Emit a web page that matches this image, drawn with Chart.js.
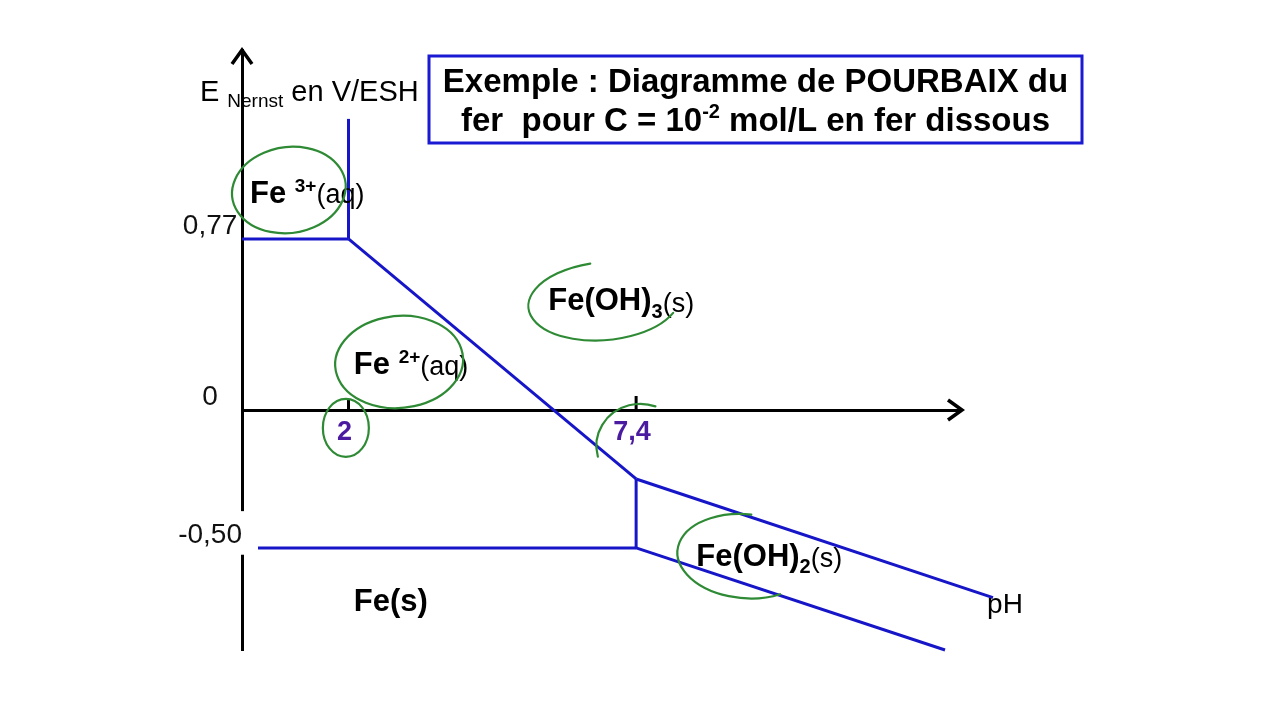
<!DOCTYPE html>
<html>
<head>
<meta charset="utf-8">
<script src="https://cdn.jsdelivr.net/npm/chart.js@4.4.1/dist/chart.umd.min.js"></script>
<style>
  html, body { margin: 0; padding: 0; background: #ffffff; }
  #wrap { width: 1280px; height: 720px; }
</style>
</head>
<body>
<div id="wrap"><canvas id="c" width="1280" height="720"></canvas></div>
<script>
// ---------------- DATA (pH, E in V/ESH) ----------------
const fe3Fe2_pH = [0, 2];            const fe3Fe2_E = [0.77, 0.77];
const feoh3Fe3_pH = [2, 2];          const feoh3Fe3_E = [0.77, 1.31];
const feoh3Fe2_pH = [2, 7.4];        const feoh3Fe2_E = [0.77, -0.25];
const fe2Feoh2_pH = [7.4, 7.4];      const fe2Feoh2_E = [-0.25, -0.50];
const fe2Fe_pH = [0, 7.4];           const fe2Fe_E = [-0.50, -0.50];
const feoh3Feoh2_pH = [7.4, 14.1];   const feoh3Feoh2_E = [-0.25, -0.68];
const feoh2Fe_pH = [7.4, 13.2];      const feoh2Fe_E = [-0.50, -0.87];

const xTicks = [2, 7.4];
const xTickLabels = ['2', '7,4'];
const yTicks = [-0.50, 0, 0.77];
const yTickLabels = ['-0,50', '0', '0,77'];

// species labels (anchor in pH / E)
const speciesNames = ['Fe3+(aq)', 'Fe(OH)3(s)', 'Fe2+(aq)', 'Fe(OH)2(s)', 'Fe(s)'];
const speciesPH = [0.15, 5.75, 2.10, 8.53, 2.10];
const speciesE = [0.93, 0.45, 0.16, -0.565, -0.73];

// hand-drawn circles (centre in pH / E)
const circlePH = [0.88, 6.80, 2.95, 1.95, 7.48, 9.45];
const circleE = [0.99, 0.49, 0.216, -0.065, -0.13, -0.53];

const titleLines = ['Exemple : Diagramme de POURBAIX du', 'fer  pour C = 10', '-2', ' mol/L en fer dissous'];

// ---------------- STYLE ----------------
const FAM = '"Liberation Sans", Arial, Helvetica, sans-serif';
const BLUE = '#1616c8';
const PURPLE = '#4a1aa0';
const GREEN = '#2e8a34';

// piecewise linear scale (schematic axis: different unit above / below 0)
class PiecewiseScale extends Chart.LinearScale {
  getPixelForValue(v) {
    if (v === null || v === undefined || isNaN(v)) return NaN;
    const f = this.options.zeroFraction;
    const zeroPx = this.bottom - (this.bottom - this.top) * f;
    if (v >= 0) return zeroPx - (v / this.max) * (zeroPx - this.top);
    return zeroPx + (v / this.min) * (this.bottom - zeroPx);
  }
  getValueForPixel(p) {
    const f = this.options.zeroFraction;
    const zeroPx = this.bottom - (this.bottom - this.top) * f;
    if (p <= zeroPx) return (zeroPx - p) / (zeroPx - this.top) * this.max;
    return (p - zeroPx) / (this.bottom - zeroPx) * this.min;
  }
  // let the label backdrop reach past the axis line (no clipping to the scale box)
  _computeLabelArea() { return null; }
}
PiecewiseScale.id = 'piecewise';
PiecewiseScale.defaults = { zeroFraction: 0.4, ticks: { callback: v => String(v) } };
Chart.register(PiecewiseScale);

const mk = (pH, E) => pH.map((v, i) => ({ x: v, y: E[i] }));
const lineStyle = { showLine: true, borderColor: BLUE, backgroundColor: BLUE, borderWidth: 3,
  pointRadius: 0, pointHoverRadius: 0, clip: false, fill: false, tension: 0, borderCapStyle: 'butt' };

function drawRich(ctx, parts, x, y, align) {
  let w = 0;
  parts.forEach(p => { ctx.font = p.font; p.w = ctx.measureText(p.t).width; w += p.w; });
  let cx = align === 'center' ? x - w / 2 : x;
  ctx.textAlign = 'left';
  ctx.textBaseline = 'alphabetic';
  parts.forEach(p => {
    ctx.font = p.font; ctx.fillStyle = p.color || '#000';
    ctx.fillText(p.t, cx, y + (p.dy || 0));
    cx += p.w;
  });
}

const B = s => 'bold ' + s + 'px ' + FAM;
const N = s => s + 'px ' + FAM;

const speciesParts = [
  [{ t: 'Fe ', font: B(31) }, { t: '3+', font: B(19), dy: -11 }, { t: '(aq)', font: N(27) }],
  [{ t: 'Fe(OH)', font: B(31) }, { t: '3', font: B(20), dy: 8 }, { t: '(s)', font: N(27), dy: 2 }],
  [{ t: 'Fe ', font: B(31) }, { t: '2+', font: B(19), dy: -11 }, { t: '(aq)', font: N(27), dy: 1 }],
  [{ t: 'Fe(OH)', font: B(31) }, { t: '2', font: B(20), dy: 7 }, { t: '(s)', font: N(27), dy: 1 }],
  [{ t: 'Fe(s)', font: B(31) }]
];
// circle shapes: rx, ry (px), rotation, start/end angle (deg)
const circleShape = [
  [57, 43, -8, 205, 585],
  [76, 39, -5, 27, 262],
  [64, 46, -5, 215, 590],
  [23, 29, 0, 0, 360],
  [44, 42, 0, 165, 290],
  [68, 42, 5, 56, 272]
];

const overlay = {
  id: 'overlay',
  afterDraw(chart) {
    const { ctx, scales: { x, y }, chartArea } = chart;
    const X = v => x.getPixelForValue(v);
    const Y = v => y.getPixelForValue(v);
    ctx.save();
    // arrows
    ctx.strokeStyle = '#000'; ctx.lineWidth = 3.5; ctx.lineJoin = 'miter'; ctx.lineCap = 'butt';
    const ax = X(0), ay = chartArea.top;
    ctx.beginPath(); ctx.moveTo(ax - 10, ay + 14); ctx.lineTo(ax, ay); ctx.lineTo(ax + 10, ay + 14); ctx.stroke();
    const bx = chartArea.right + 1, by = Y(0);
    ctx.beginPath(); ctx.moveTo(bx - 14, by - 10); ctx.lineTo(bx, by); ctx.lineTo(bx - 14, by + 10); ctx.stroke();
    // tick marks on pH axis (upwards)
    ctx.lineWidth = 3;
    xTicks.forEach((v, i) => {
      ctx.beginPath(); ctx.moveTo(X(v), by); ctx.lineTo(X(v), by - (i === 0 ? 10 : 14)); ctx.stroke();
    });
    // axis titles
    drawRich(ctx, [{ t: 'E ', font: N(29) }, { t: 'Nernst', font: N(19), dy: 6 }, { t: ' en V/ESH', font: N(29) }],
      X(-0.79), Y(1.39), 'left');
    drawRich(ctx, [{ t: 'pH', font: N(28) }], X(13.99), Y(-0.736), 'left');
    // species labels
    speciesParts.forEach((parts, i) => drawRich(ctx, parts, X(speciesPH[i]), Y(speciesE[i]), 'left'));
    // green hand-drawn circles
    ctx.strokeStyle = GREEN; ctx.lineWidth = 2.2; ctx.lineCap = 'round';
    circleShape.forEach((s, i) => {
      const d = Math.PI / 180;
      ctx.beginPath();
      ctx.ellipse(X(circlePH[i]), Y(circleE[i]), s[0], s[1], s[2] * d, s[3] * d, s[4] * d);
      ctx.stroke();
    });
    // title box
    const tx = 429, ty = 56, tw = 653, th = 87;
    ctx.fillStyle = '#fff'; ctx.fillRect(tx, ty, tw, th);
    ctx.strokeStyle = '#1a1ad2'; ctx.lineWidth = 3; ctx.strokeRect(tx, ty, tw, th);
    const cxT = tx + tw / 2;
    drawRich(ctx, [{ t: titleLines[0], font: B(33) }], cxT, 92, 'center');
    drawRich(ctx, [{ t: titleLines[1], font: B(33) }, { t: titleLines[2], font: B(20), dy: -13 },
      { t: titleLines[3], font: B(33) }], cxT, 131, 'center');
    ctx.restore();
  }
};

new Chart(document.getElementById('c'), {
  type: 'scatter',
  data: {
    datasets: [
      Object.assign({ label: 'Fe3+/Fe2+', data: mk(fe3Fe2_pH, fe3Fe2_E) }, lineStyle),
      Object.assign({ label: 'Fe(OH)3/Fe3+', data: mk(feoh3Fe3_pH, feoh3Fe3_E) }, lineStyle),
      Object.assign({ label: 'Fe(OH)3/Fe2+', data: mk(feoh3Fe2_pH, feoh3Fe2_E) }, lineStyle),
      Object.assign({ label: 'Fe2+/Fe(OH)2', data: mk(fe2Feoh2_pH, fe2Feoh2_E) }, lineStyle),
      Object.assign({ label: 'Fe2+/Fe', data: mk(fe2Fe_pH, fe2Fe_E) }, lineStyle),
      Object.assign({ label: 'Fe(OH)3/Fe(OH)2', data: mk(feoh3Feoh2_pH, feoh3Feoh2_E) }, lineStyle),
      Object.assign({ label: 'Fe(OH)2/Fe', data: mk(feoh2Fe_pH, feoh2Fe_E) }, lineStyle)
    ]
  },
  options: {
    responsive: false,
    devicePixelRatio: 1,
    animation: false,
    events: [],
    layout: { padding: { top: 50, bottom: 70, left: 0, right: 319 } },
    plugins: { legend: { display: false }, tooltip: { enabled: false }, title: { display: false } },
    scales: {
      x: {
        type: 'linear', min: 0, max: 13.5, position: { y: 0 },
        grid: { display: false, drawTicks: false },
        border: { display: true, color: '#000', width: 3 },
        afterBuildTicks: s => { s.ticks = xTicks.map(v => ({ value: v })); },
        ticks: { autoSkip: false, maxRotation: 0, padding: 6, labelOffset: -4, color: PURPLE,
          font: { family: FAM, size: 27, weight: 'bold' }, callback: (v, i) => xTickLabels[i] }
      },
      y: {
        type: 'piecewise', min: -0.87, max: 1.62, zeroFraction: 0.4, position: 'left',
        grid: { display: false, drawTicks: false },
        border: { display: true, color: '#000', width: 3 },
        afterFit: s => { s.width = 242; },
        afterBuildTicks: s => { s.ticks = yTicks.map(v => ({ value: v })); },
        ticks: { z: 1, autoSkip: false, padding: 0, crossAlign: 'center', labelOffset: -13, color: '#111',
          font: { family: FAM, size: 28 }, callback: (v, i) => yTickLabels[i],
          showLabelBackdrop: c => !!(c.tick && c.tick.value === -0.5), backdropColor: '#ffffff',
          backdropPadding: { top: 7, bottom: 3, left: 4, right: 16 } }
      }
    }
  },
  plugins: [overlay]
});
</script>
</body>
</html>
